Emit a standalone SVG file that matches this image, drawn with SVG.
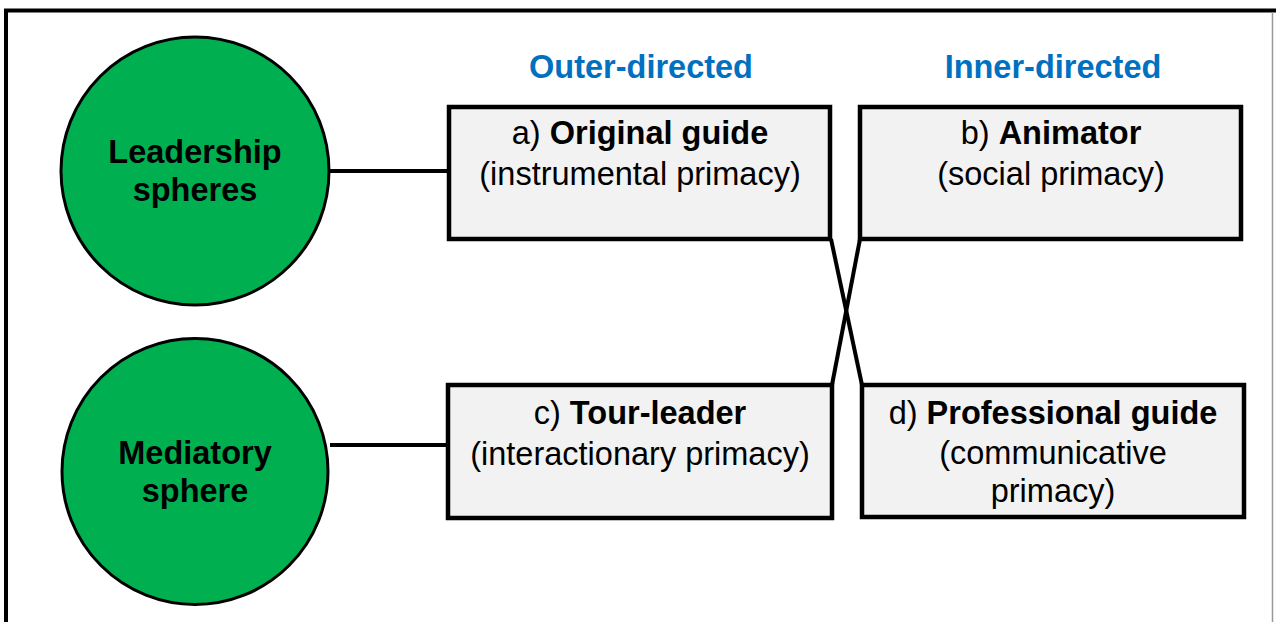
<svg xmlns="http://www.w3.org/2000/svg" width="1276" height="622" viewBox="0 0 1276 622">
  <style>
    text { font-family: "Liberation Sans", Arial, sans-serif; font-size: 32.5px; text-anchor: middle; fill: #000; }
    .b { font-weight: bold; }
    .hdr { font-weight: bold; fill: #0070C0; }
    .sphere { fill: #00B050; stroke: #000; stroke-width: 3; }
    .box { fill: #F2F2F2; stroke: #000; stroke-width: 4.5; }
    .link { stroke: #000; stroke-width: 4; fill: none; }
  </style>
  <rect width="1276" height="622" fill="#fff"/>

  <!-- outer frame -->
  <g id="frame">
    <line x1="4" y1="10.5" x2="1276" y2="10.5" stroke="#000" stroke-width="4"/>
    <line x1="6" y1="9" x2="6" y2="622" stroke="#000" stroke-width="4"/>
    <line x1="1272.5" y1="12" x2="1272.5" y2="622" stroke="#999" stroke-width="1.5"/>
  </g>

  <!-- column headers -->
  <g id="headers">
    <text class="hdr" x="641" y="78">Outer-directed</text>
    <text class="hdr" x="1053" y="78">Inner-directed</text>
  </g>

  <!-- connectors -->
  <g id="connectors">
    <line class="link" x1="330" y1="171" x2="449" y2="171"/>
    <line class="link" x1="330" y1="445" x2="448" y2="445"/>
    <line class="link" x1="831" y1="239" x2="862" y2="385"/>
    <line class="link" x1="860" y1="239" x2="832" y2="385"/>
  </g>

  <g id="leadership">
    <circle class="sphere" cx="195" cy="171" r="134"/>
    <text class="b" x="195" y="163">Leadership</text>
    <text class="b" x="195" y="201">spheres</text>
  </g>

  <g id="mediatory">
    <circle class="sphere" cx="195" cy="471.5" r="133"/>
    <text class="b" x="195" y="464">Mediatory</text>
    <text class="b" x="195" y="502">sphere</text>
  </g>

  <g id="original-guide">
    <rect class="box" x="449" y="107" width="381" height="132"/>
    <text x="640" y="144">a) <tspan class="b">Original guide</tspan></text>
    <text x="640" y="185">(instrumental primacy)</text>
  </g>

  <g id="animator">
    <rect class="box" x="860" y="107" width="381" height="132"/>
    <text x="1051" y="144">b) <tspan class="b">Animator</tspan></text>
    <text x="1051" y="185">(social primacy)</text>
  </g>

  <g id="tour-leader">
    <rect class="box" x="448" y="385" width="384" height="133"/>
    <text x="640" y="424">c) <tspan class="b">Tour-leader</tspan></text>
    <text x="640" y="465">(interactionary primacy)</text>
  </g>

  <g id="professional-guide">
    <rect class="box" x="862" y="385" width="382" height="132"/>
    <text x="1053" y="424">d) <tspan class="b">Professional guide</tspan></text>
    <text x="1053" y="464">(communicative</text>
    <text x="1053" y="502">primacy)</text>
  </g>
</svg>
